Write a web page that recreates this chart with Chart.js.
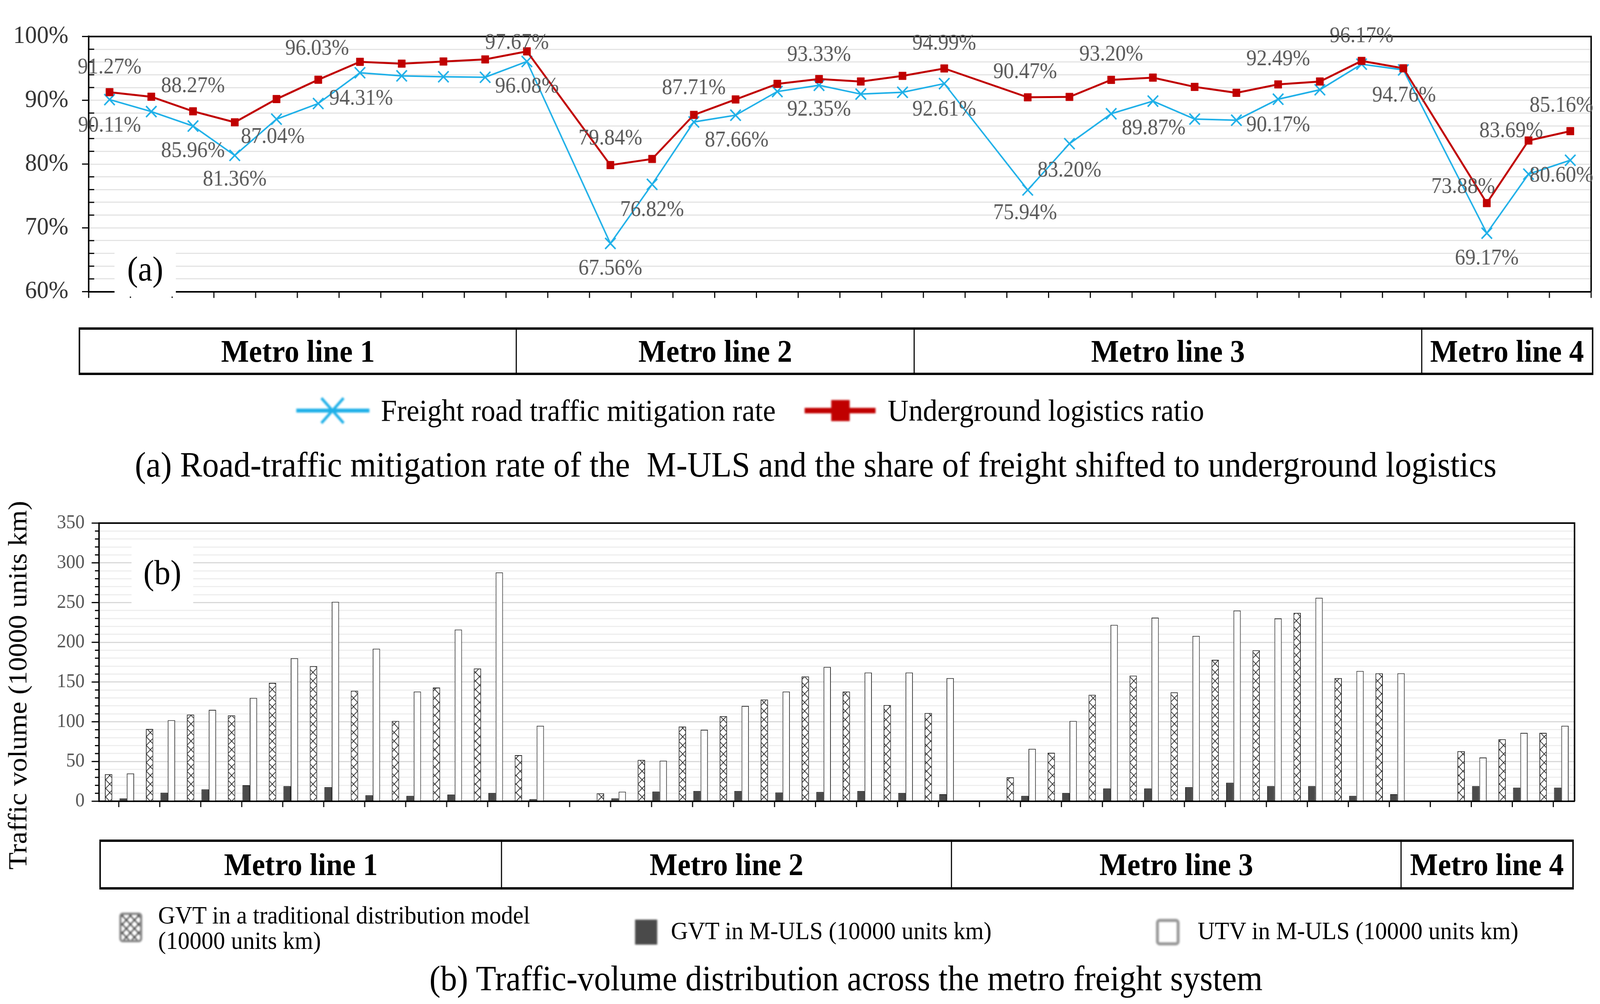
<!DOCTYPE html>
<html>
<head>
<meta charset="utf-8">
<script src="https://cdn.jsdelivr.net/npm/chart.js@4.4.1/dist/chart.umd.min.js"></script>
<style>
  html, body { margin: 0; background: #fff; overflow: hidden; }
  #page { position: relative; width: 4331px; height: 2570px; overflow: hidden; background: #fff; transform-origin: 0 0;
          font-family: "Liberation Serif", "Times New Roman", serif; color: #000; }
  .txt { position: absolute; white-space: pre; line-height: 1; }
  .box { position: absolute; box-sizing: border-box; border-top: 6px solid #000; border-bottom: 6px solid #000; }
  .cell { position: absolute; top: 0; bottom: 0; box-sizing: border-box; border-left: 3px solid #000;
          display: flex; align-items: center; justify-content: center; font-weight: bold; font-size: 80px; white-space: pre; }
  .cell.last { border-right: 4px solid #000; }
  .cell.first { border-left: 4px solid #000; }
  .tag { position: absolute; background: #fff; display: flex; align-items: center; justify-content: center; font-size: 88px; }
  .sw { position: absolute; filter: blur(2px); }
</style>
</head>
<body>
<div id="page">
  <canvas id="topChart" width="4331" height="840" style="position:absolute;left:0;top:0"></canvas>
  <canvas id="bottomChart" width="4331" height="850" style="position:absolute;left:0;top:1270px"></canvas>
</div>
<script>
// 36 stations along the four metro lines, with one empty slot between lines
const stations = ['1-1','1-2','1-3','1-4','1-5','1-6','1-7','1-8','1-9','1-10','1-11','gap1',
                  '2-1','2-2','2-3','2-4','2-5','2-6','2-7','2-8','2-9','gap2',
                  '3-1','3-2','3-3','3-4','3-5','3-6','3-7','3-8','3-9','3-10','gap3',
                  '4-1','4-2','4-3'];
const metroLines = ['Metro line 1', 'Metro line 2', 'Metro line 3', 'Metro line 4'];

// (a) percentages
const undergroundRatio = [91.27, 90.55, 88.27, 86.55, 90.19, 93.22, 96.03, 95.74, 96.08, 96.41, 97.67, null,
                          79.84, 80.80, 87.71, 90.13, 92.57, 93.33, 92.94, 93.83, 94.99, null,
                          90.47, 90.53, 93.20, 93.55, 92.10, 91.17, 92.49, 92.94, 96.17, 95.01, null,
                          73.88, 83.69, 85.16];
const mitigationRate = [90.11, 88.23, 85.96, 81.36, 87.04, 89.49, 94.31, 93.83, 93.69, 93.61, 96.08, null,
                        67.56, 76.82, 86.60, 87.66, 91.37, 92.35, 90.97, 91.25, 92.61, null,
                        75.94, 83.20, 87.89, 89.87, 87.05, 86.88, 90.17, 91.65, 95.66, 94.76, null,
                        69.17, 78.42, 80.60];
const pctTicks = [60, 70, 80, 90, 100];

// (b) traffic volumes (10000 units km)
const gvtTraditional = [34, 91, 109, 108, 149, 170, 139, 101, 143, 167, 58, null,
                        10, 52, 94, 107, 128, 157, 138, 121, 111, null,
                        30, 61, 134, 158, 137, 178, 190, 237, 155, 161, null,
                        63, 78, 86];
const gvtMuls = [3.6, 10.7, 15, 20.2, 19, 17.8, 7.6, 6.8, 8.5, 10.5, 2.7, null,
                 3.7, 12.2, 12.9, 12.9, 11, 11.7, 12.9, 10.5, 8.8, null,
                 6.8, 10.5, 16.1, 16.1, 17.8, 23.4, 19, 19, 6.8, 8.8, null,
                 19, 17.1, 17.1];
const utvMuls = [35, 102, 115, 130, 180, 251, 192, 138, 216, 288, 95, null,
                 12, 51, 90, 120, 138, 169, 162, 162, 155, null,
                 66, 101, 222, 231, 208, 240, 230, 256, 164, 161, null,
                 55, 86, 95];
const volTicks = [0, 50, 100, 150, 200, 250, 300, 350];

// which points carry a value label, and where it sits relative to the point
const labelSpots = [
  { ds: 0, i: 0, dx: 0, dy: -63 }, { ds: 0, i: 2, dx: 0, dy: -64 }, { ds: 0, i: 6, dx: -116, dy: -33 },
  { ds: 0, i: 10, dx: -27, dy: -21 }, { ds: 0, i: 12, dx: 0, dy: -67 }, { ds: 0, i: 14, dx: 0, dy: -68 },
  { ds: 0, i: 17, dx: 0, dy: -61 }, { ds: 0, i: 20, dx: 0, dy: -63 }, { ds: 0, i: 22, dx: -7, dy: -64 },
  { ds: 0, i: 24, dx: 0, dy: -64 }, { ds: 0, i: 28, dx: 0, dy: -64 }, { ds: 0, i: 30, dx: 0, dy: -63 },
  { ds: 0, i: 33, dx: -64, dy: -41 }, { ds: 0, i: 34, dx: -47, dy: -23 }, { ds: 0, i: 35, dx: -24, dy: -64 },
  { ds: 1, i: 0, dx: 0, dy: 67 }, { ds: 1, i: 2, dx: 0, dy: 65 }, { ds: 1, i: 3, dx: 0, dy: 63 },
  { ds: 1, i: 4, dx: -10, dy: 46 }, { ds: 1, i: 6, dx: 3, dy: 67 }, { ds: 1, i: 10, dx: 0, dy: 65 },
  { ds: 1, i: 12, dx: 0, dy: 65 }, { ds: 1, i: 13, dx: 0, dy: 66 }, { ds: 1, i: 15, dx: 3, dy: 65 },
  { ds: 1, i: 17, dx: 0, dy: 63 }, { ds: 1, i: 20, dx: 0, dy: 67 }, { ds: 1, i: 22, dx: -7, dy: 60 },
  { ds: 1, i: 23, dx: 0, dy: 70 }, { ds: 1, i: 25, dx: 2, dy: 70 }, { ds: 1, i: 28, dx: 0, dy: 67 },
  { ds: 1, i: 31, dx: 2, dy: 66 }, { ds: 1, i: 33, dx: 0, dy: 65 }, { ds: 1, i: 35, dx: -24, dy: 40 }
];

const RED = '#c00000';
const BLUE = '#1fb0e8';
const SERIF = 'Liberation Serif';

const page = document.getElementById('page');

// the window may be narrower than 4331px: stretch the sheet so it fills it
function fitPage() {
  const w = window.innerWidth || 4331, h = window.innerHeight || 2570;
  page.style.transform = 'scale(' + (w / 4331) + ',' + (h / 2570) + ')';
}
fitPage();

function addText(str, left, top, size, extra) {
  const d = document.createElement('div');
  d.className = 'txt';
  d.textContent = str;
  d.style.left = left + 'px';
  d.style.top = top + 'px';
  d.style.fontSize = size + 'px';
  if (extra) Object.assign(d.style, extra);
  page.appendChild(d);
  return d;
}

function addBox(top, height, edges) {
  const box = document.createElement('div');
  box.className = 'box';
  box.style.left = edges[0] + 'px';
  box.style.top = top + 'px';
  box.style.width = (edges[edges.length - 1] - edges[0]) + 'px';
  box.style.height = height + 'px';
  metroLines.forEach((name, k) => {
    const c = document.createElement('div');
    c.className = 'cell' + (k === 0 ? ' first' : '') + (k === metroLines.length - 1 ? ' last' : '');
    c.style.left = (edges[k] - edges[0]) + 'px';
    c.style.width = (edges[k + 1] - edges[k]) + 'px';
    c.textContent = name;
    box.appendChild(c);
  });
  page.appendChild(box);
}

function addTag(str, left, top, w, h) {
  const d = document.createElement('div');
  d.className = 'tag';
  d.style.left = left + 'px'; d.style.top = top + 'px';
  d.style.width = w + 'px'; d.style.height = h + 'px';
  d.textContent = str;
  page.appendChild(d);
}

function addSvg(left, top, w, h, inner) {
  const d = document.createElement('div');
  d.className = 'sw';
  d.style.left = left + 'px'; d.style.top = top + 'px';
  d.innerHTML = '<svg width="' + w + '" height="' + h + '" xmlns="http://www.w3.org/2000/svg">' + inner + '</svg>';
  page.appendChild(d);
}

function makeHatch() {
  const c = document.createElement('canvas');
  c.width = 22; c.height = 22;
  const g = c.getContext('2d');
  g.fillStyle = '#fff';
  g.fillRect(0, 0, 22, 22);
  g.strokeStyle = '#222';
  g.lineWidth = 1.8;
  g.beginPath();
  g.moveTo(-2, -2); g.lineTo(24, 24);
  g.moveTo(24, -2); g.lineTo(-2, 24);
  g.stroke();
  return g.createPattern(c, 'repeat');
}

function seg(ctx, x1, y1, x2, y2) {
  ctx.beginPath(); ctx.moveTo(x1, y1); ctx.lineTo(x2, y2); ctx.stroke();
}

const frameTop = {
  id: 'frameTop',
  afterDraw(chart) {
    const { ctx, chartArea: a, scales: { x, y } } = chart;
    ctx.save();
    ctx.strokeStyle = '#000';
    ctx.lineWidth = 4;
    ctx.beginPath();
    ctx.moveTo(a.left, a.top); ctx.lineTo(a.right, a.top); ctx.lineTo(a.right, a.bottom);
    ctx.stroke();
    ctx.lineWidth = 3;
    y.ticks.forEach(t => {
      const py = y.getPixelForValue(t.value);
      if (pctTicks.includes(Math.round(t.value))) seg(ctx, a.left - 18, py, a.left, py);
      else seg(ctx, a.left, py, a.left + 15, py);
    });
    const step = x.getPixelForValue(1) - x.getPixelForValue(0);
    for (let k = 0; k <= stations.length; k++) {
      const px = x.getPixelForValue(k) - step / 2;
      seg(ctx, px, a.bottom, px, a.bottom + 16);
    }
    ctx.restore();
  }
};

const pointLabels = {
  id: 'pointLabels',
  afterDraw(chart) {
    const { ctx } = chart;
    ctx.save();
    ctx.font = '56px "' + SERIF + '"';
    ctx.fillStyle = '#595959';
    ctx.textAlign = 'center';
    ctx.textBaseline = 'middle';
    labelSpots.forEach(s => {
      const pt = chart.getDatasetMeta(s.ds).data[s.i];
      const v = chart.data.datasets[s.ds].data[s.i];
      ctx.fillText(v.toFixed(2) + '%', pt.x + s.dx, pt.y + s.dy);
    });
    ctx.restore();
  }
};

const frameBottom = {
  id: 'frameBottom',
  afterDraw(chart) {
    const { ctx, chartArea: a, scales: { x, y } } = chart;
    ctx.save();
    ctx.strokeStyle = '#000';
    ctx.lineWidth = 4;
    ctx.beginPath();
    ctx.moveTo(a.left, a.top); ctx.lineTo(a.right, a.top); ctx.lineTo(a.right, a.bottom);
    ctx.stroke();
    ctx.lineWidth = 3;
    y.ticks.forEach(t => {
      const py = y.getPixelForValue(t.value);
      const len = volTicks.includes(Math.round(t.value)) ? 20 : 11;
      seg(ctx, a.left - len, py, a.left, py);
    });
    for (let k = 0; k < stations.length; k++) {
      const px = x.getPixelForValue(k) - 2;
      seg(ctx, px, a.bottom, px, a.bottom + 15);
    }
    ctx.restore();
  }
};

new Chart(document.getElementById('topChart'), {
  type: 'line',
  data: {
    labels: stations,
    datasets: [
      { label: 'Underground logistics ratio', data: undergroundRatio, borderColor: RED, backgroundColor: RED,
        borderWidth: 5, pointStyle: 'rect', pointRadius: 14, pointBackgroundColor: RED, pointBorderColor: RED,
        pointBorderWidth: 1, spanGaps: true, tension: 0 },
      { label: 'Freight road traffic mitigation rate', data: mitigationRate, borderColor: BLUE, backgroundColor: BLUE,
        borderWidth: 4, pointStyle: 'crossRot', pointRadius: 20, pointBorderColor: BLUE, pointBorderWidth: 4,
        spanGaps: true, tension: 0 }
    ]
  },
  options: {
    responsive: false, animation: false, devicePixelRatio: 1,
    layout: { padding: { top: 38, right: 19, left: 0, bottom: 0 } },
    plugins: { legend: { display: false }, tooltip: { enabled: false } },
    scales: {
      x: {
        offset: true,
        grid: { display: false, drawTicks: false },
        ticks: { display: false },
        border: { display: true, color: '#000', width: 4 },
        afterFit: s => { s.height = 28; }
      },
      y: {
        min: 60, max: 100,
        ticks: {
          stepSize: 2, autoSkip: false, padding: 55, color: '#333',
          font: { family: SERIF, size: 64 },
          callback: v => pctTicks.includes(Math.round(v)) ? Math.round(v) + '%' : ''
        },
        grid: { color: '#e4e4e4', lineWidth: 3, drawTicks: false },
        border: { color: '#000', width: 4 },
        afterFit: s => { s.width = 240; }
      }
    }
  },
  plugins: [frameTop, pointLabels]
});

const hatch = makeHatch();
const spacer = new Array(stations.length).fill(null);

new Chart(document.getElementById('bottomChart'), {
  type: 'bar',
  data: {
    labels: stations,
    datasets: [
      { label: 'GVT in a traditional distribution model (10000 units km)', data: gvtTraditional,
        backgroundColor: hatch, borderColor: '#222', borderWidth: 2 },
      { label: 'spacer', data: spacer },
      { label: 'GVT in M-ULS (10000 units km)', data: gvtMuls,
        backgroundColor: '#4a4a4a', borderColor: '#222', borderWidth: 2 },
      { label: 'UTV in M-ULS (10000 units km)', data: utvMuls,
        backgroundColor: '#fff', borderColor: '#333', borderWidth: 2 }
    ]
  },
  options: {
    responsive: false, animation: false, devicePixelRatio: 1,
    categoryPercentage: 0.712, barPercentage: 1.0,
    layout: { padding: { top: 53, right: 69, left: 0, bottom: 0 } },
    plugins: { legend: { display: false }, tooltip: { enabled: false } },
    scales: {
      x: {
        grid: { display: false, drawTicks: false },
        ticks: { display: false },
        border: { display: true, color: '#000', width: 4 },
        afterFit: s => { s.height = 19; }
      },
      y: {
        min: 0, max: 350,
        ticks: {
          stepSize: 10, autoSkip: false, padding: 39, color: '#555',
          font: { family: SERIF, size: 50 },
          callback: v => volTicks.includes(Math.round(v)) ? String(Math.round(v)) : ''
        },
        grid: {
          lineWidth: 3, drawTicks: false,
          color: c => volTicks.includes(Math.round(c.tick.value)) ? '#d9d9d9' : '#eeeeee'
        },
        border: { color: '#000', width: 4 },
        afterFit: s => { s.width = 268; }
      }
    }
  },
  plugins: [frameBottom]
});

// panel tags
addTag('(a)', 310, 618, 166, 141);
addTag('(b)', 356, 1384, 167, 163);

// metro line bands
addBox(838, 122, [213, 1396, 2473, 3847, 4313]);
addBox(2149, 128, [269, 1356, 2574, 3791, 4260]);

// legend (a)
addSvg(795, 1011, 212, 80,
  '<line x1="7" y1="40" x2="205" y2="40" stroke="' + BLUE + '" stroke-width="10"/>' +
  '<line x1="75" y1="8" x2="135" y2="72" stroke="' + BLUE + '" stroke-width="7"/>' +
  '<line x1="135" y1="8" x2="75" y2="72" stroke="' + BLUE + '" stroke-width="7"/>');
addText('Freight road traffic mitigation rate', 1031, 1012, 78);
addSvg(2170, 1011, 212, 80,
  '<line x1="8" y1="40" x2="200" y2="40" stroke="' + RED + '" stroke-width="14"/>' +
  '<rect x="80" y="13" width="50" height="54" fill="' + RED + '"/>');
addText('Underground logistics ratio', 2403, 1012, 78);

// captions
addText('(a) Road-traffic mitigation rate of the  M-ULS and the share of freight shifted to underground logistics',
        2208, 1145, 90, { transform: 'translateX(-50%)' });
addText('(b) Traffic-volume distribution across the metro freight system',
        2290, 2460, 90, { transform: 'translateX(-50%)' });

// y title (b)
addText('Traffic volume (10000 units km)', 47 - 520, 1754 - 36, 72,
        { width: '1040px', textAlign: 'center', transform: 'rotate(-90deg)' });

// legend (b)
addSvg(320, 2333, 70, 82,
  '<defs><pattern id="hx" width="22" height="22" patternUnits="userSpaceOnUse">' +
  '<rect width="22" height="22" fill="#fff"/>' +
  '<path d="M-2,-2 L24,24 M24,-2 L-2,24" stroke="#333" stroke-width="3"/></pattern></defs>' +
  '<rect x="6" y="6" width="56" height="70" rx="6" fill="url(#hx)" stroke="#888" stroke-width="6"/>');
addText('GVT in a traditional distribution model', 428, 2311, 64);
addText('(10000 units km)', 428, 2376, 64);
addSvg(1714, 2349, 72, 74, '<rect x="5" y="5" width="60" height="64" fill="#4a4a4a"/>');
addText('GVT in M-ULS (10000 units km)', 1816, 2351, 64);
addSvg(3126, 2349, 72, 74, '<rect x="7" y="7" width="56" height="60" rx="6" fill="#fff" stroke="#999" stroke-width="8"/>');
addText('UTV in M-ULS (10000 units km)', 3242, 2351, 64);
</script>
</body>
</html>
